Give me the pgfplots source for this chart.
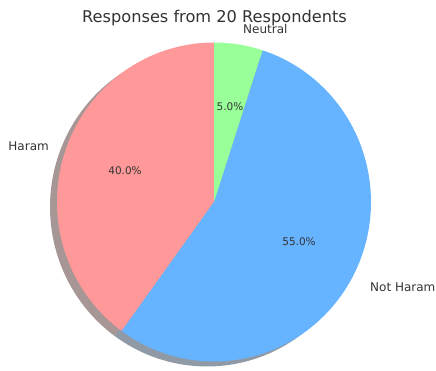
\documentclass[border=0pt]{standalone}
\usepackage{pgfplots}
\pgfplotsset{compat=1.18}
\usepackage{fontspec}
\setmainfont{DejaVu Sans}
\definecolor{cHaram}{HTML}{FF9999}
\definecolor{cNot}{HTML}{66B3FF}
\definecolor{cNeu}{HTML}{99FF99}
\definecolor{sHaram}{HTML}{A69696}
\definecolor{sNot}{HTML}{8F9AA6}
\definecolor{sNeu}{HTML}{969F96}
\definecolor{txt}{HTML}{333333}
% values (percent of 20 respondents)
\def\vHaram{40}
\def\vNot{55}
\def\vNeu{5}
\pgfmathsetmacro{\aA}{90}
\pgfmathsetmacro{\aB}{\aA+3.6*\vHaram}
\pgfmathsetmacro{\aC}{\aB+3.6*\vNot}
\pgfmathsetmacro{\aD}{\aC+3.6*\vNeu}
\def\cx{214}
\def\cy{169}
\def\rx{157}
\def\ry{159.5}
\def\sx{-7}
\def\sy{-5}
\begin{document}
\begin{tikzpicture}
\begin{axis}[
  scale only axis, width=436pt, height=371pt,
  xmin=0, xmax=436, ymin=0, ymax=371,
  hide axis, clip=false,
]
\path (axis cs:0,0) rectangle (axis cs:436,371);
% shadows
\addplot[draw=none, fill=sHaram, domain=\aA:\aB, samples=80, variable=\t]
  ({\cx+\sx+\rx*cos(\t)}, {\cy+\sy+\ry*sin(\t)}) -- (axis cs:\cx+\sx,\cy+\sy) -- cycle;
\addplot[draw=none, fill=sNot, domain=\aB:\aC, samples=100, variable=\t]
  ({\cx+\sx+\rx*cos(\t)}, {\cy+\sy+\ry*sin(\t)}) -- (axis cs:\cx+\sx,\cy+\sy) -- cycle;
\addplot[draw=none, fill=sNeu, domain=\aC:\aD, samples=20, variable=\t]
  ({\cx+\sx+\rx*cos(\t)}, {\cy+\sy+\ry*sin(\t)}) -- (axis cs:\cx+\sx,\cy+\sy) -- cycle;
% wedges
\addplot[draw=none, fill=cHaram, domain=\aA:\aB, samples=80, variable=\t]
  ({\cx+\rx*cos(\t)}, {\cy+\ry*sin(\t)}) -- (axis cs:\cx,\cy) -- cycle;
\addplot[draw=none, fill=cNot, domain=\aB:\aC, samples=100, variable=\t]
  ({\cx+\rx*cos(\t)}, {\cy+\ry*sin(\t)}) -- (axis cs:\cx,\cy) -- cycle;
\addplot[draw=none, fill=cNeu, domain=\aC:\aD, samples=20, variable=\t]
  ({\cx+\rx*cos(\t)}, {\cy+\ry*sin(\t)}) -- (axis cs:\cx,\cy) -- cycle;
% texts
\node[anchor=base, inner sep=0, text=txt, font=\fontsize{16.2}{19}\selectfont] at (axis cs:214.5,348) {Responses from 20 Respondents};
\node[anchor=east, inner sep=0, text=txt, font=\fontsize{12}{14}\selectfont] at (axis cs:49,224.5) {Haram};
\node[anchor=west, inner sep=0, text=txt, font=\fontsize{12}{14}\selectfont] at (axis cs:370,84) {Not Haram};
\node[anchor=west, inner sep=0, text=txt, font=\fontsize{12}{14}\selectfont] at (axis cs:243,342) {Neutral};
\node[inner sep=0, text=txt, font=\fontsize{10.5}{12}\selectfont] at (axis cs:125,200) {40.0\%};
\node[inner sep=0, text=txt, font=\fontsize{10.5}{12}\selectfont] at (axis cs:299,129) {55.0\%};
\node[inner sep=0, text=txt, font=\fontsize{10.5}{12}\selectfont] at (axis cs:230,264) {5.0\%};
\end{axis}
\end{tikzpicture}
\end{document}
